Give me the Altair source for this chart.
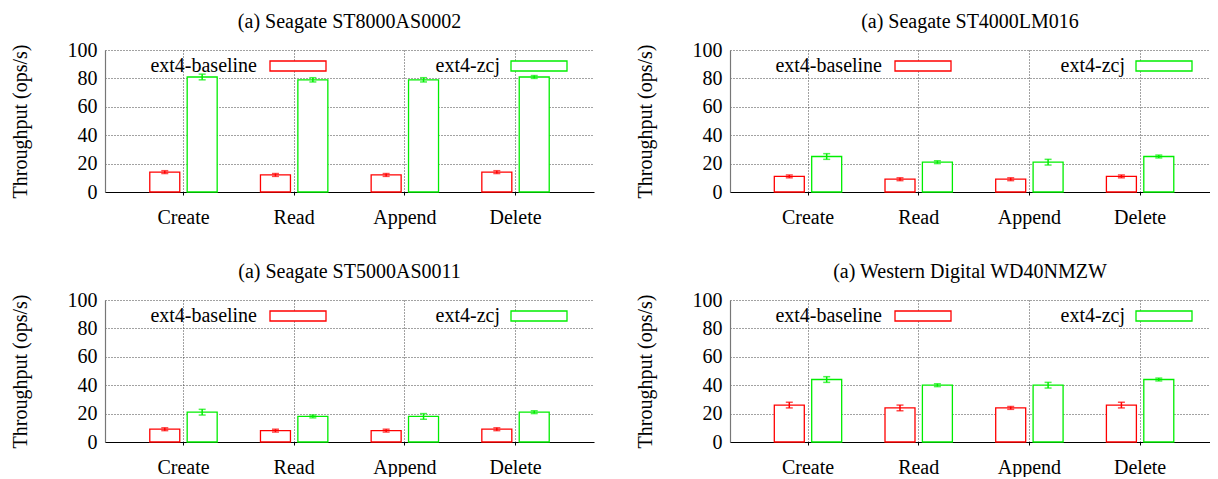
import altair as alt
import pandas as pd

ops = ["Create", "Read", "Append", "Delete"]
series = ["ext4-baseline", "ext4-zcj"]
titles = [
    "(a) Seagate ST8000AS0002",
    "(a) Seagate ST4000LM016",
    "(a) Seagate ST5000AS0011",
    "(a) Western Digital WD40NMZW",
]
base_vals = [[14, 12, 12, 14], [11, 9, 9, 11], [9, 8, 8, 9], [26, 24, 24, 26]]
base_err = [[1, 1, 1, 1], [1, 1, 1, 1], [1, 1, 1, 1], [2, 2, 1, 2]]
zcj_vals = [[81, 79, 79, 81], [25, 21, 21, 25], [21, 18, 18, 21], [44, 40, 40, 44]]
zcj_err = [[2, 1.5, 1.5, 1], [2, 1, 2, 1], [2, 1, 2, 1], [2, 1, 2, 1]]
y_ticks = [0, 20, 40, 60, 80, 100]

FONT = "Liberation Serif"
COLORS = ["#ff0000", "#00ee00"]
GRID = "#444444"

color_scale = alt.Scale(domain=series, range=COLORS)
y_scale = alt.Scale(domain=[0, 100], nice=False)
y_axis = alt.Axis(
    values=y_ticks, title="Throughput (ops/s)", grid=True,
    gridDash=[1, 2], gridColor=GRID, gridWidth=1, labelOverlap=False,
    domainColor="#777777", domainWidth=1.2, ticks=False,
    labelPadding=8, labelFont=FONT, labelFontSize=20,
    labelColor="#000000", titleFont=FONT, titleFontSize=20,
    titleFontWeight="normal", titleColor="#000000",
    titlePadding=37,
)


def panel(i, width, pad_outer, align):
    df = pd.DataFrame({
        "op": ops * 2,
        "series": [series[0]] * 4 + [series[1]] * 4,
        "value": base_vals[i] + zcj_vals[i],
        "err": base_err[i] + zcj_err[i],
    })
    base = alt.Chart(df).transform_calculate(
        lo="datum.value - datum.err", hi="datum.value + datum.err"
    ).encode(
        x=alt.X(
            "op:N", sort=ops,
            scale=alt.Scale(paddingInner=0, paddingOuter=pad_outer, align=align),
            axis=alt.Axis(
                title=None, labelAngle=0, grid=True, gridDash=[1, 2],
                gridColor=GRID, gridWidth=1, domainColor="#000000",
                domainWidth=1.2, tickSize=3, tickColor="#000000",
                labelPadding=12, labelFont=FONT, labelFontSize=20,
                labelColor="#000000",
            ),
        ),
        xOffset=alt.XOffset(
            "series:N", sort=series,
            scale=alt.Scale(paddingInner=0.198, paddingOuter=0.579),
        ),
    )
    bars = base.mark_bar(fill="white", strokeWidth=1.3).encode(
        y=alt.Y("value:Q", scale=y_scale, axis=y_axis),
        stroke=alt.Stroke("series:N", scale=color_scale, legend=None),
    )
    rule = base.mark_rule(strokeWidth=1.5).encode(
        y=alt.Y("lo:Q", scale=y_scale, axis=y_axis), y2="hi:Q",
        color=alt.Color("series:N", scale=color_scale, legend=None),
    )
    cap_lo = base.mark_tick(size=7, thickness=1.5).encode(
        y=alt.Y("lo:Q", scale=y_scale, axis=y_axis),
        color=alt.Color("series:N", scale=color_scale, legend=None),
    )
    cap_hi = base.mark_tick(size=7, thickness=1.5).encode(
        y=alt.Y("hi:Q", scale=y_scale, axis=y_axis),
        color=alt.Color("series:N", scale=color_scale, legend=None),
    )
    legend_layers = []
    text_right = [152, 395]
    box_left = [165, 406]
    for k, s in enumerate(series):
        ldf = pd.DataFrame({"series": [s]})
        legend_layers.append(
            alt.Chart(ldf).mark_text(
                align="right", baseline="alphabetic", font=FONT,
                fontSize=20, color="#000000",
            ).encode(x=alt.value(text_right[k]), y=alt.value(22), text="series:N")
        )
        legend_layers.append(
            alt.Chart(ldf).mark_rect(fill="white", strokeWidth=1.3).encode(
                x=alt.value(box_left[k]), x2=alt.value(box_left[k] + 56),
                y=alt.value(11), y2=alt.value(21),
                stroke=alt.Stroke("series:N", scale=color_scale, legend=None),
            )
        )
    return alt.layer(bars, rule, cap_lo, cap_hi, *legend_layers).properties(
        width=width, height=142,
        title=alt.TitleParams(
            titles[i], font=FONT, fontSize=20, fontWeight="normal",
            color="#000000", anchor="middle", baseline="alphabetic", offset=-8,
        ),
    )


left_po, left_al = 0.209, 0.5
right_po, right_al = 0.168, 0.609

row1 = alt.hconcat(panel(0, 489, left_po, left_al), panel(1, 480, right_po, right_al), spacing=41)
row2 = alt.hconcat(panel(2, 489, left_po, left_al), panel(3, 480, right_po, right_al), spacing=41)

chart = alt.vconcat(row1, row2, spacing=35).properties(
    padding={"left": 2, "top": 4, "right": 0, "bottom": 0}
).configure_view(stroke=None).resolve_scale(color="independent")

chart.save("out.html", embed_options={"renderer": "svg", "actions": False})
